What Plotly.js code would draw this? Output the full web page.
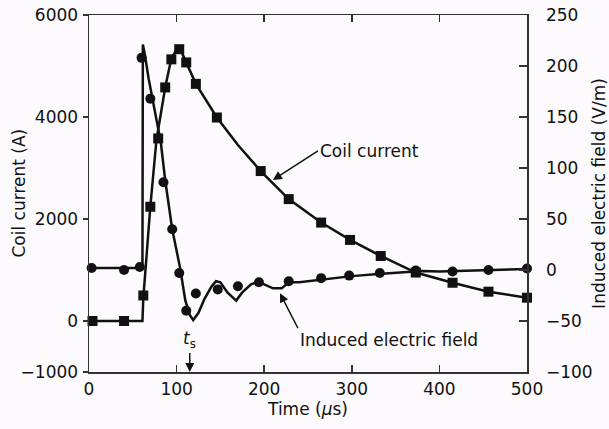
<!DOCTYPE html>
<html><head><meta charset="utf-8">
<script src="https://cdn.plot.ly/plotly-3.0.1.min.js"></script>
<style>html,body{margin:0;padding:0;background:#fcfafc}</style>
</head><body><div id="chart" style="width:609px;height:429px"></div>
<script>
// Coil current (A) - square markers, left axis
const currentMarkT = [4, 40, 62, 70, 79, 87, 94, 103, 111, 122, 146, 196, 228, 265, 298, 333, 373, 415, 456, 500];
const currentMarkI = [0, 0, 500, 2240, 3580, 4580, 5130, 5330, 5070, 4650, 3990, 2940, 2390, 1930, 1590, 1275, 950, 750, 575, 457];
// Coil current curve
const currentLineT = [0, 61, 62, 70, 77, 87, 94, 100, 105, 111, 122, 146, 170, 196, 228, 265, 298, 333, 373, 415, 456, 500];
const currentLineI = [0, 0, 450, 2240, 3550, 4580, 5150, 5320, 5300, 5080, 4650, 3990, 3450, 2940, 2390, 1930, 1590, 1275, 950, 750, 575, 457];
// Induced electric field (V/m) - circle markers, right axis
const fieldMarkT = [3, 40, 58, 60, 70, 85, 95, 103, 111, 122, 147, 170, 194, 228, 265, 297, 332, 373, 415, 456, 500];
const fieldMarkE = [2, 0, 3, 208, 168, 86, 40, -3, -40, -23, -19, -16, -12, -11, -8, -5.5, -3, -0.5, -1.5, 0, 1.5];
// Induced electric field curve
const fieldLineT = [0, 61, 61.5, 64, 68, 73, 78, 82, 87, 95, 104, 110, 115, 119, 125, 132, 140, 145, 150, 158, 168, 175, 185, 193, 200, 210, 220, 228, 240, 260, 280, 300, 330, 360, 380, 400, 420, 440, 460, 480, 500];
const fieldLineE = [2, 2, 221, 210, 188, 165, 145, 125, 88, 40, 2, -30, -44, -49, -42, -28, -16, -11, -12, -22, -30, -22, -14, -11.5, -14, -18, -18, -12, -12, -10, -8, -6, -4, -2, -1, -1.5, -1, 0, 0, 0.5, 1];

const xTicks = [0, 100, 200, 300, 400, 500];
const yTicks = [-1000, 0, 2000, 4000, 6000];
const yTickText = ['\u22121000', '0', '2000', '4000', '6000'];
const y2Ticks = [-100, -50, 0, 50, 100, 150, 200, 250];
const y2TickText = ['\u2212100', '\u221250', '0', '50', '100', '150', '200', '250'];

const FONT = 'DejaVu Sans, Liberation Sans, Arial, sans-serif';
const INK = '#111';

const traces = [
  {x: currentLineT, y: currentLineI, mode: 'lines', line: {color: INK, width: 2.5}, yaxis: 'y', hoverinfo: 'skip'},
  {x: currentMarkT, y: currentMarkI, mode: 'markers', marker: {symbol: 'square', size: 10, color: INK}, yaxis: 'y', cliponaxis: false},
  {x: fieldLineT, y: fieldLineE, mode: 'lines', line: {color: INK, width: 2.5}, yaxis: 'y2', hoverinfo: 'skip'},
  {x: fieldMarkT, y: fieldMarkE, mode: 'markers', marker: {symbol: 'circle', size: 10, color: INK}, yaxis: 'y2', cliponaxis: false}
];

const axisCommon = {showgrid: false, zeroline: false, showline: true, linecolor: '#333', linewidth: 1.5, tickcolor: '#333', tickwidth: 1.5, tickfont: {family: FONT, size: 17, color: INK}};

const layout = {
  width: 609, height: 429,
  margin: {l: 89, r: 82, t: 15, b: 57},
  paper_bgcolor: '#fcfafc', plot_bgcolor: '#fcfafc',
  showlegend: false,
  font: {family: FONT, size: 17, color: INK},
  xaxis: Object.assign({}, axisCommon, {range: [0, 500], tickvals: xTicks, ticks: 'inside', ticklen: 7, mirror: 'ticks', ticklabelstandoff: 1,
    title: {text: 'Time (<i>\u03bc</i>s)', font: {family: FONT, size: 17, color: INK}, standoff: 4}}),
  yaxis: Object.assign({}, axisCommon, {range: [-1000, 6000], tickvals: yTicks, ticktext: yTickText, ticks: 'outside', ticklen: 5, ticklabelstandoff: 1}),
  yaxis2: Object.assign({}, axisCommon, {range: [-100, 250], overlaying: 'y', side: 'right', tickvals: y2Ticks, ticktext: y2TickText, ticks: 'inside', ticklen: 8, ticklabelstandoff: 14,
    title: {text: 'Induced electric field (V/m)', font: {family: FONT, size: 17, color: INK}, standoff: 8}}),
  annotations: [
    {x: -0.162, y: 0.5, xref: 'paper', yref: 'paper', text: 'Coil current (A)', textangle: -90, showarrow: false, xanchor: 'center', yanchor: 'middle', font: {family: FONT, size: 17, color: INK}},
    {x: 210, y: 2765, xref: 'x', yref: 'y', text: 'Coil current', showarrow: true, ax: 45, ay: -29, xanchor: 'left', yanchor: 'middle', arrowhead: 2, arrowsize: 1.2, arrowwidth: 1.5, arrowcolor: INK, font: {family: FONT, size: 17, color: INK}},
    {x: 218, y: -22.8, xref: 'x', yref: 'y2', text: 'Induced electric field', showarrow: true, ax: 18, ay: 35, xanchor: 'left', yanchor: 'top', arrowhead: 2, arrowsize: 1.2, arrowwidth: 1.5, arrowcolor: INK, font: {family: FONT, size: 17, color: INK}},
    {x: 115, y: 0, xref: 'x', yref: 'paper', text: '<i>t</i><sub>s</sub>', showarrow: true, ax: 0, ay: -19, xanchor: 'center', yanchor: 'bottom', arrowhead: 2, arrowsize: 1.2, arrowwidth: 1.5, arrowcolor: INK, font: {family: FONT, size: 17, color: INK}}
  ]
};

Plotly.newPlot('chart', traces, layout, {displayModeBar: false, staticPlot: true});
</script></body></html>
